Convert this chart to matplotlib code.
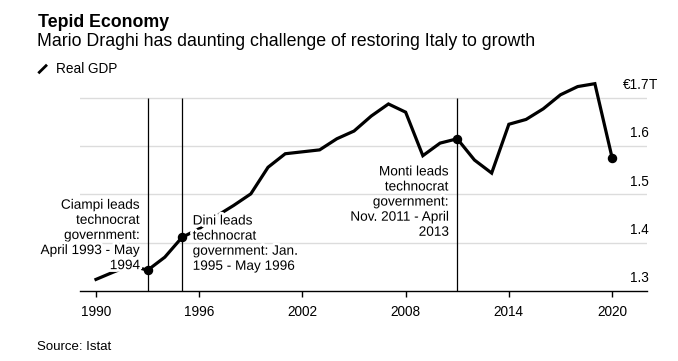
import matplotlib
matplotlib.use("Agg")
import matplotlib.pyplot as plt
import matplotlib.patheffects as pe
from matplotlib.lines import Line2D

plt.rcParams['font.family'] = ['Liberation Sans', 'DejaVu Sans']

# ---- data (trillions of euros, real GDP) ----
years = list(range(1990, 2021))
gdp = [1.324, 1.339, 1.353, 1.343, 1.370, 1.411, 1.429, 1.455, 1.477, 1.501,
       1.556, 1.584, 1.588, 1.592, 1.615, 1.631, 1.662, 1.687, 1.670, 1.580,
       1.606, 1.615, 1.571, 1.544, 1.645, 1.655, 1.677, 1.706, 1.723, 1.729,
       1.576]
marked_years = [1993, 1995, 2011, 2020]
event_years = [1993, 1995, 2011]
xticks = [1990, 1996, 2002, 2008, 2014, 2020]
yticks = [1.3, 1.4, 1.5, 1.6, 1.7]
ytick_labels = ["1.3", "1.4", "1.5", "1.6", "1.7"]
annotations = [
    ("Ciampi leads\ntechnocrat\ngovernment:\nApril 1993 - May\n1994", 1992.56, 1.416, "right"),
    ("Dini leads\ntechnocrat\ngovernment: Jan.\n1995 - May 1996", 1995.62, 1.399, "left"),
    ("Monti leads\ntechnocrat\ngovernment:\nNov. 2011 - April\n2013", 2010.51, 1.485, "right"),
]

W, H = 678, 361
fig = plt.figure(figsize=(W / 100, H / 100), dpi=100)
ax = fig.add_axes([80 / W, 70 / H, (647 - 80) / W, (291 - 80) / H])
ax.set_xlim(1989.07, 2022.03)
ax.set_ylim(1.3, 1.7366)

# gridlines
for v in yticks[1:]:
    ax.axhline(v, color="#dcdcdc", lw=1.0, zorder=0)

# event lines
ax.vlines(event_years, 1.3, 1.7, color="black", lw=0.9, zorder=1)

# main line
ax.plot(years, gdp, color="black", lw=2.3, zorder=3, solid_joinstyle="miter", clip_on=False)
mx = [y for y in marked_years]
my = [gdp[years.index(y)] for y in marked_years]
ax.plot(mx, my, "o", color="black", ms=5.8, zorder=4, clip_on=False)

# annotations with white halo
for txt, x, y, ha in annotations:
    ax.text(x, y, txt, ha=ha, va="center", multialignment=ha, fontsize=9.8,
            linespacing=1.1, color="black", zorder=5,
            path_effects=[pe.withStroke(linewidth=4, foreground="white")])

# axes styling
for s in ["top", "right", "left"]:
    ax.spines[s].set_visible(False)
ax.spines["bottom"].set_color("black")
ax.spines["bottom"].set_linewidth(1.0)
ax.set_yticks([])
ax.set_xticks(xticks)
ax.set_xticklabels([str(t) for t in xticks])
ax.tick_params(axis="x", length=4, width=1, color="black", pad=5.8, labelsize=9.8)

# y labels above gridlines, at right
for v, lab in zip(yticks, ytick_labels):
    if v == 1.7:
        ax.annotate("€" + lab, xy=(1, v), xycoords=("axes fraction", "data"),
                    xytext=(1.5, 9.2), textcoords="offset points",
                    ha="right", va="center", fontsize=9.8)
        ax.annotate("T", xy=(1, v), xycoords=("axes fraction", "data"),
                    xytext=(1.5, 9.2), textcoords="offset points",
                    ha="left", va="center", fontsize=9.8)
    else:
        ax.annotate(lab, xy=(1, v), xycoords=("axes fraction", "data"),
                    xytext=(1.0, 9.2), textcoords="offset points",
                    ha="right", va="center", fontsize=9.8)

# titles
fig.text(38 / W, 1 - 26.7 / H, "Tepid Economy", fontsize=12.8, fontweight="bold",
         va="baseline", ha="left")
fig.text(37 / W, 1 - 45.5 / H, "Mario Draghi has daunting challenge of restoring Italy to growth",
         fontsize=12.8, va="baseline", ha="left")
# legend
fig.add_artist(Line2D([39.3 / W, 46 / W], [1 - 72.3 / H, 1 - 65.7 / H], color="black", lw=2.0,
                      transform=fig.transFigure))
fig.text(55.7 / W, 1 - 73.3 / H, "Real GDP", fontsize=9.8, va="baseline", ha="left")

# source
fig.text(37 / W, 1 - 346.7 / H, "Source: Istat", fontsize=9.5, va="center", ha="left")

fig.savefig("out.png", dpi=100, facecolor="white")
